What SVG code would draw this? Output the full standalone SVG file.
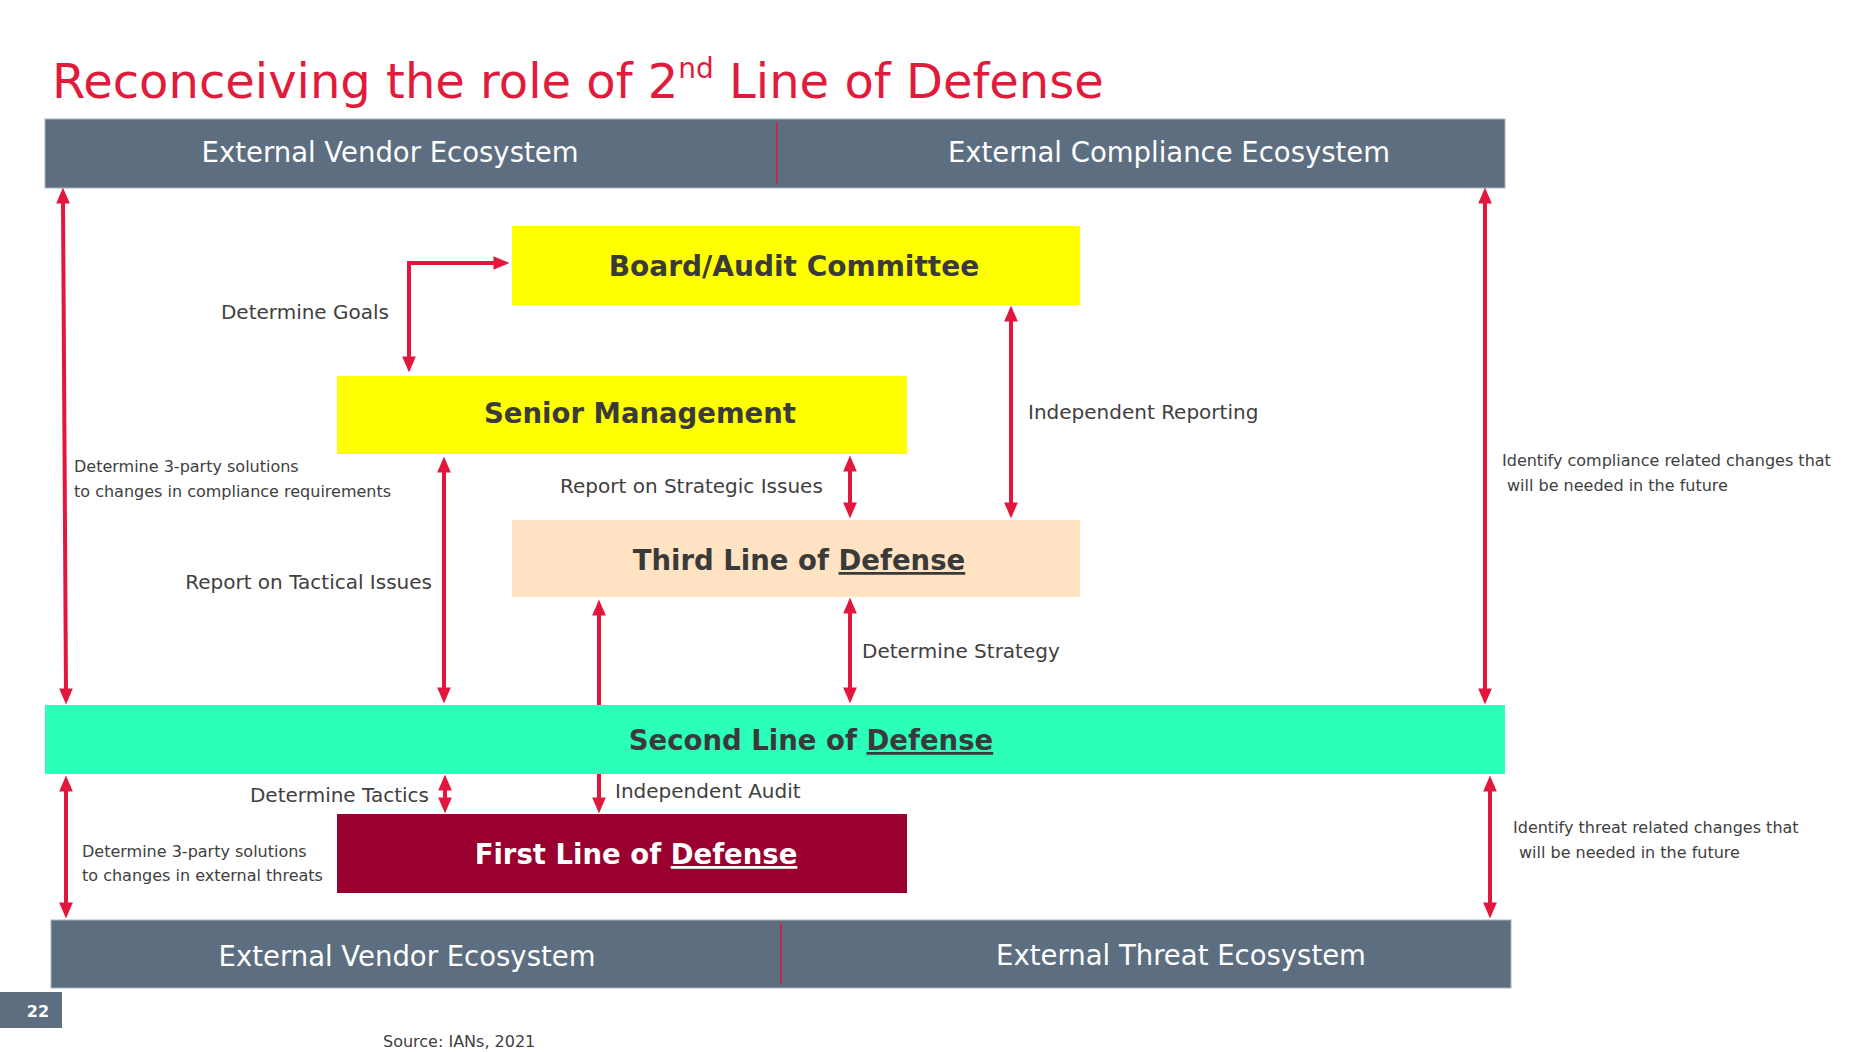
<svg xmlns="http://www.w3.org/2000/svg" width="1872" height="1052" viewBox="0 0 1872 1052">
<style>
.bar{fill:#5C6E7F;stroke:#A9B4BE;stroke-width:1}
.bartxt{font-family:"DejaVu Sans",Verdana,sans-serif;font-size:27.5px;fill:#FFFFFF;text-anchor:middle}
.box{stroke:none}
.boxtxt{font-family:"DejaVu Sans",Verdana,sans-serif;font-size:27.5px;font-weight:bold;fill:#3A3A3A;text-anchor:middle}
.lbl{font-family:"DejaVu Sans",Verdana,sans-serif;font-size:20px;fill:#404040}
.sm{font-family:"DejaVu Sans",Verdana,sans-serif;font-size:16px;fill:#404040}
.conn{stroke:#E3173E;stroke-width:4;fill:none}
.dbl{marker-start:url(#ah);marker-end:url(#ah)}
.sgl{marker-end:url(#ah)}
.div{stroke:#C8284C;stroke-width:2}
</style>
<defs>
<marker id="ah" markerUnits="userSpaceOnUse" markerWidth="16" markerHeight="14" viewBox="0 0 14 12" refX="4" refY="6" orient="auto-start-reverse">
<path d="M0,0 L14,6 L0,12 z" fill="#E3173E"/>
</marker>
</defs>
<rect width="1872" height="1052" fill="#FFFFFF"/>
<text x="52" y="98" font-family="DejaVu Sans,Verdana,sans-serif" font-size="48" fill="#E11B3C">Reconceiving the role of 2<tspan font-size="28" dy="-20">nd</tspan><tspan dy="20"> Line of Defense</tspan></text>

<g id="top-bar">
<rect class="bar" x="45" y="119" width="1460" height="69"/>
<line class="div" x1="777" y1="122" x2="777" y2="184"/>
<text class="bartxt" x="390" y="162">External Vendor Ecosystem</text>
<text class="bartxt" x="1169" y="162">External Compliance Ecosystem</text>
</g>

<g id="board">
<rect class="box" x="512" y="226" width="568" height="79" fill="#FFFF00"/>
<text class="boxtxt" x="794" y="276" style="font-size:28px">Board/Audit Committee</text>
</g>
<g id="senior-management">
<rect class="box" x="337" y="376" width="570" height="78" fill="#FFFF00"/>
<text class="boxtxt" x="640" y="423">Senior Management</text>
</g>
<g id="third-line">
<rect class="box" x="512" y="520" width="568" height="77" fill="#FFE3C3"/>
<text class="boxtxt" x="799" y="570">Third Line of <tspan text-decoration="underline">Defense</tspan></text>
</g>
<g id="second-line">
<rect class="box" x="45" y="705" width="1460" height="69" fill="#2CFFBA"/>
<text class="boxtxt" x="811" y="750">Second Line of <tspan text-decoration="underline">Defense</tspan></text>
</g>
<g id="first-line">
<rect class="box" x="337" y="814" width="570" height="79" fill="#99002F"/>
<text class="boxtxt" x="636" y="864" style="fill:#FFFFFF">First Line of <tspan text-decoration="underline">Defense</tspan></text>
</g>

<g id="bottom-bar">
<rect class="bar" x="51" y="920" width="1460" height="68"/>
<line class="div" x1="781" y1="923" x2="781" y2="984"/>
<text class="bartxt" x="407" y="966">External Vendor Ecosystem</text>
<text class="bartxt" x="1181" y="965">External Threat Ecosystem</text>
</g>

<g id="connectors">
<line class="conn dbl" x1="63" y1="199" x2="66" y2="693"/>
<line class="conn dbl" x1="1485" y1="199" x2="1485" y2="693"/>
<path class="conn dbl" d="M409,361 L409,263 L498,263"/>
<line class="conn dbl" x1="1011" y1="317" x2="1011" y2="507"/>
<line class="conn dbl" x1="850" y1="467" x2="850" y2="507"/>
<line class="conn dbl" x1="444" y1="468" x2="444" y2="692"/>
<line class="conn sgl" x1="599" y1="705" x2="599" y2="611"/>
<line class="conn dbl" x1="850" y1="609" x2="850" y2="692"/>
<line class="conn dbl" x1="66" y1="787" x2="66" y2="907"/>
<line class="conn dbl" x1="1490" y1="787" x2="1490" y2="907"/>
<line class="conn dbl" x1="445" y1="786" x2="445" y2="802"/>
<line class="conn sgl" x1="599" y1="774" x2="599" y2="802"/>
</g>

<g id="labels">
<text class="lbl" x="389" y="319" text-anchor="end">Determine Goals</text>
<text class="lbl" x="1028" y="419">Independent Reporting</text>
<text class="sm" x="74" y="472">Determine 3-party solutions</text>
<text class="sm" x="74" y="497">to changes in compliance requirements</text>
<text class="lbl" x="560" y="493">Report on Strategic Issues</text>
<text class="lbl" x="432" y="589" text-anchor="end">Report on Tactical Issues</text>
<text class="sm" x="1502" y="466">Identify compliance related changes that</text>
<text class="sm" x="1507" y="491">will be needed in the future</text>
<text class="lbl" x="862" y="658">Determine Strategy</text>
<text class="lbl" x="429" y="802" text-anchor="end">Determine Tactics</text>
<text class="lbl" x="615" y="798">Independent Audit</text>
<text class="sm" x="82" y="857">Determine 3-party solutions</text>
<text class="sm" x="82" y="881">to changes in external threats</text>
<text class="sm" x="1513" y="833">Identify threat related changes that</text>
<text class="sm" x="1519" y="858">will be needed in the future</text>
</g>

<g id="footer">
<rect x="0" y="992" width="62" height="36" fill="#5C6E7F"/>
<text x="38" y="1017" font-family="DejaVu Sans,Verdana,sans-serif" font-size="16" font-weight="bold" fill="#FFFFFF" text-anchor="middle">22</text>
<text class="sm" x="383" y="1047">Source: IANs, 2021</text>
</g>
</svg>
